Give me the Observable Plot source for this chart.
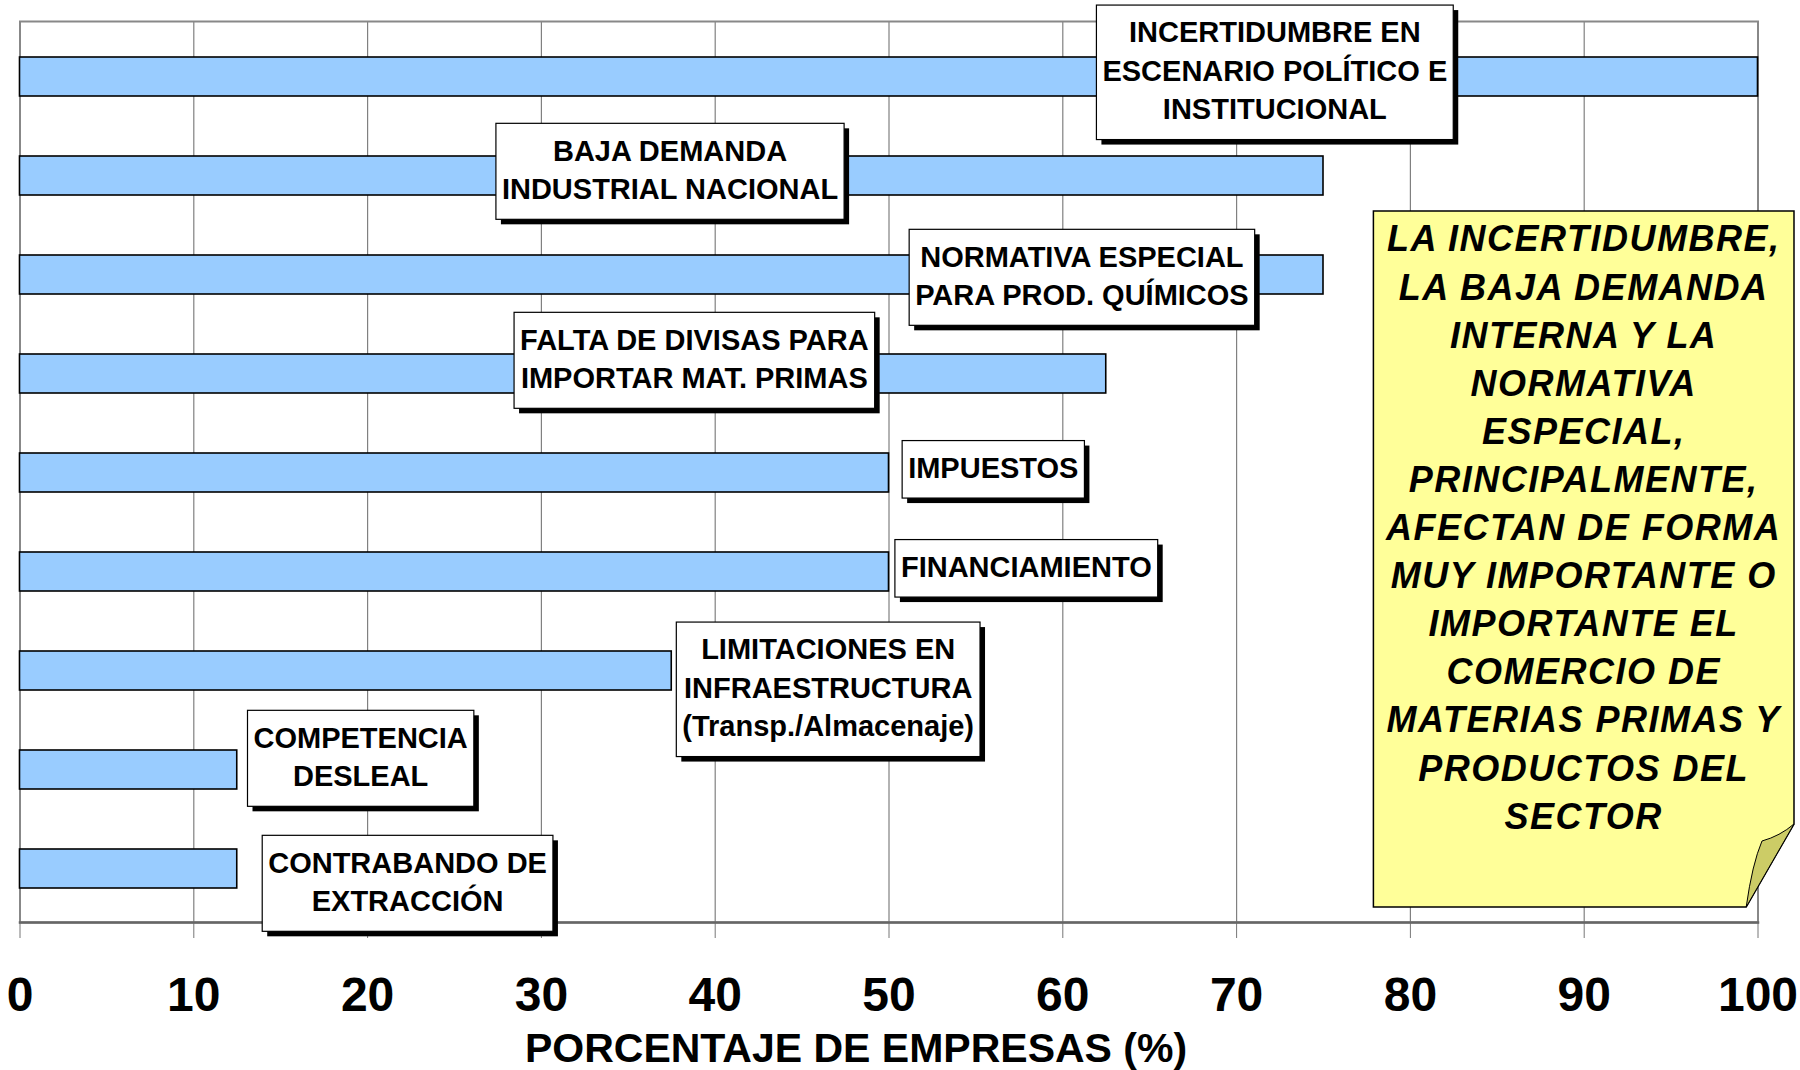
<!DOCTYPE html>
<html>
<head>
<meta charset="utf-8">
<script src="https://cdn.jsdelivr.net/npm/d3@7"></script>
<script src="https://cdn.jsdelivr.net/npm/@observablehq/plot@0.6"></script>
<style>
  html, body { margin: 0; padding: 0; background: #fff; overflow: hidden; }
  svg { display: block; }
</style>
</head>
<body>
<div id="chart"></div>
<script>
// ---- Data ----
const categories = [
  "INCERTIDUMBRE EN\nESCENARIO POLÍTICO E\nINSTITUCIONAL",
  "BAJA DEMANDA\nINDUSTRIAL NACIONAL",
  "NORMATIVA ESPECIAL\nPARA PROD. QUÍMICOS",
  "FALTA DE DIVISAS PARA\nIMPORTAR MAT. PRIMAS",
  "IMPUESTOS",
  "FINANCIAMIENTO",
  "LIMITACIONES EN\nINFRAESTRUCTURA\n(Transp./Almacenaje)",
  "COMPETENCIA\nDESLEAL",
  "CONTRABANDO DE\nEXTRACCIÓN"
];
const values = [100, 75, 75, 62.5, 50, 50, 37.5, 12.5, 12.5];
const xTicks = [0, 10, 20, 30, 40, 50, 60, 70, 80, 90, 100];
const xLabel = "PORCENTAJE DE EMPRESAS (%)";
const noteLines = [
  "LA INCERTIDUMBRE,",
  "LA BAJA DEMANDA",
  "INTERNA Y LA",
  "NORMATIVA",
  "ESPECIAL,",
  "PRINCIPALMENTE,",
  "AFECTAN DE FORMA",
  "MUY IMPORTANTE O",
  "IMPORTANTE EL",
  "COMERCIO DE",
  "MATERIAS PRIMAS Y",
  "PRODUCTOS DEL",
  "SECTOR"
];

// ---- Layout (annotation placement, not data) ----
const labelLayout = {
  cx: [72.2, 37.4, 61.1, 38.8, 56.0, 57.9, 46.5, 19.6, 22.3], // label centre, in % units
  dy: [-8.5, -8.5, -1.5, -17.5, -7.5, -7.5, 14.5, -15.5, 10.5] // px offset from band centre
};
const FONT = "'Liberation Sans', Arial, Helvetica, sans-serif";
const LBL_FS = 29, LBL_LH = 38.5;

const rows = categories.map((c, i) => ({
  cat: c, value: values[i], lx: labelLayout.cx[i], dy: labelLayout.dy[i]
}));

const labelMarks = rows.map(r => Plot.text([r], {
  x: "lx", y: "cat", text: "cat", dy: r.dy,
  fontSize: LBL_FS, fontWeight: "bold", fill: "#000",
  lineHeight: LBL_LH / LBL_FS, textAnchor: "middle", className: "lbl"
}));

const chart = Plot.plot({
  width: 1800, height: 1070,
  marginLeft: 19.5, marginRight: 42.5, marginTop: 21, marginBottom: 148,
  style: { fontFamily: FONT, background: "#fff", color: "#000" },
  x: { domain: [0, 100], ticks: xTicks, label: null },
  y: { domain: categories, range: [24, 921], paddingInner: 0.61, paddingOuter: 0.305, axis: null },
  marks: [
    Plot.ruleX(xTicks.slice(1), { stroke: "#808080", strokeWidth: 1.2 }),
    Plot.frame({ stroke: "#888", strokeWidth: 2 }),
    Plot.barX(rows, { x: "value", y: "cat", fill: "#99CCFF", stroke: "#000", strokeWidth: 1.6 }),
    Plot.axisX({
      ticks: xTicks, tickSize: 16, tickPadding: 38, stroke: "#777",
      fontSize: 48, fontWeight: "bold", fill: "#000",
      tickFormat: d => String(d), label: null
    }),
    Plot.frame({ anchor: "bottom", stroke: "#666", strokeWidth: 2.5 }),
    ...labelMarks,
    Plot.text([xLabel], {
      frameAnchor: "bottom", dy: 139, dx: -33, text: d => d,
      fontSize: 41, fontWeight: "bold", fill: "#000"
    })
  ]
});

document.getElementById("chart").append(chart);

// ---- Boxes behind the bar labels ----
const NS = "http://www.w3.org/2000/svg";
d3.select(chart).selectAll("g.lbl text").each(function () {
  const bb = this.getBBox();
  const n = Math.max(1, this.querySelectorAll("tspan").length);
  const h = n * LBL_LH + 19;
  const cy = bb.y + bb.height / 2 + 1.5;
  const x0 = bb.x - 6, w = bb.width + 12, y0 = cy - h / 2;
  const tf = this.getAttribute("transform");
  const shadow = document.createElementNS(NS, "rect");
  shadow.setAttribute("x", x0 + 5); shadow.setAttribute("y", y0 + 5);
  shadow.setAttribute("width", w); shadow.setAttribute("height", h);
  shadow.setAttribute("fill", "#000");
  const box = document.createElementNS(NS, "rect");
  box.setAttribute("x", x0); box.setAttribute("y", y0);
  box.setAttribute("width", w); box.setAttribute("height", h);
  box.setAttribute("fill", "#fff"); box.setAttribute("stroke", "#000"); box.setAttribute("stroke-width", 1.2);
  if (tf) { shadow.setAttribute("transform", tf); box.setAttribute("transform", tf); }
  this.parentNode.insertBefore(shadow, this);
  this.parentNode.insertBefore(box, this);
});

// ---- Yellow note ----
const xs = chart.scale("x");
const nx1 = xs.apply(77.9), nx2 = xs.apply(102.1);
const ny1 = 211, ny2 = 907, foldY = 824, foldX = xs.apply(99.35);
const svg = d3.select(chart);
const note = svg.append("g");
note.append("path")
  .attr("d", `M${nx1},${ny1}H${nx2}V${foldY}L${foldX},${ny2}H${nx1}Z`)
  .attr("fill", "#FFFF99").attr("stroke", "#000").attr("stroke-width", 1.5);
note.append("path")
  .attr("d", `M${nx2},${foldY}L${foldX},${ny2}Q${foldX + 6},${foldY + 40} ${nx2 - 32},${foldY + 17}Q${nx2 - 14},${foldY + 12} ${nx2},${foldY}Z`)
  .attr("fill", "#CCCC66").attr("stroke", "#000").attr("stroke-width", 1);
const ncx = (nx1 + nx2) / 2;
note.selectAll("text.note").data(noteLines).join("text")
  .attr("class", "note")
  .attr("x", ncx)
  .attr("y", (d, i) => 238.8 + i * 48.1)
  .attr("dy", "0.35em")
  .attr("text-anchor", "middle")
  .attr("font-family", FONT)
  .attr("font-weight", "bold")
  .attr("font-style", "italic")
  .attr("font-size", 36)
  .attr("letter-spacing", 1.5)
  .attr("fill", "#000")
  .text(d => d);
</script>
</body>
</html>
